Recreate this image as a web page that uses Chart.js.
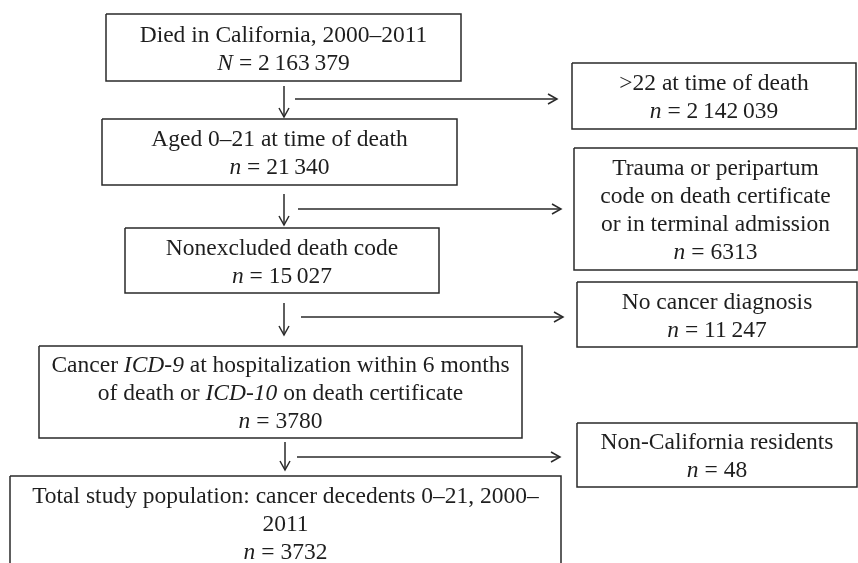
<!DOCTYPE html>
<html>
<head>
<meta charset="utf-8">
<script src="https://cdn.jsdelivr.net/npm/chart.js@4"></script>
<style>
  html, body { margin: 0; padding: 0; background: #ffffff; }
  #flow { display: block; }
</style>
</head>
<body>
<canvas id="flow" width="858" height="563"></canvas>
<script>
// Flow of the study population: main steps down the left, exclusions on the right.
const mainTitles = [
  [[["Died in California, 2000–2011", false]]],
  [[["Aged 0–21 at time of death", false]]],
  [[["Nonexcluded death code", false]]],
  [
    [["Cancer ", false], ["ICD-9", true], [" at hospitalization within 6 months", false]],
    [["of death or ", false], ["ICD-10", true], [" on death certificate", false]],
  ],
  [
    [["Total study population: cancer decedents 0–21, 2000–", false]],
    [["2011", false]],
  ],
];
const mainCounts = [2163379, 21340, 15027, 3780, 3732];
const mainCountSymbol = ["N", "n", "n", "n", "n"];

const excludedTitles = [
  [[[">22 at time of death", false]]],
  [
    [["Trauma or peripartum", false]],
    [["code on death certificate", false]],
    [["or in terminal admission", false]],
  ],
  [[["No cancer diagnosis", false]]],
  [[["Non-California residents", false]]],
];
const excludedCounts = [2142039, 6313, 11247, 48];

// box edges, in diagram units (same scale as the 858 x 563 page)
const mainLeft = [106, 102, 125, 39, 10];
const mainRight = [461, 457, 439, 522, 561];
const mainTop = [14, 119, 228, 346, 476];
const mainBottom = [81, 185, 293, 438, 570];

const sideLeft = [572, 574, 577, 577];
const sideRight = [856, 857, 857, 857];
const sideTop = [63, 148, 282, 423];
const sideBottom = [129, 270, 347, 487];

// connectors
const downX = [284, 284, 284, 285];
const downFrom = [86, 194, 303, 442];
const downTo = [117, 225, 335, 470];
const sideY = [99, 209, 317, 457];
const sideFrom = [295, 298, 301, 297];
const sideTo = [557, 561, 563, 560];

const INK = "#2a2a2a";
const FONT = "'Liberation Serif', 'Times New Roman', serif";
const FONT_SIZE = 23.5;
const LINE_H = 28;

function fmtCount(v) {
  if (v < 10000) return String(v);
  return String(v).replace(/\B(?=(\d{3})+(?!\d))/g, "\u2009");
}

function rectPoints(l, r, t, b) {
  return [{ x: l, y: t }, { x: r, y: t }, { x: r, y: b }, { x: l, y: b }, { x: l, y: t }];
}

const datasets = [];
mainLeft.forEach((l, i) => {
  datasets.push({ kind: "box", data: rectPoints(l, mainRight[i], mainTop[i], mainBottom[i]) });
});
sideLeft.forEach((l, i) => {
  datasets.push({ kind: "box", data: rectPoints(l, sideRight[i], sideTop[i], sideBottom[i]) });
});
downX.forEach((x, i) => {
  datasets.push({ kind: "down", data: [{ x, y: downFrom[i] }, { x, y: downTo[i] }] });
});
sideY.forEach((y, i) => {
  datasets.push({ kind: "right", data: [{ x: sideFrom[i], y }, { x: sideTo[i], y }] });
});
datasets.forEach((d) => {
  d.showLine = true;
  d.borderColor = INK;
  d.borderWidth = 1.5;
  d.pointRadius = 0;
  d.fill = false;
  d.tension = 0;
});

function drawRich(ctx, segs, cx, baseline) {
  const fontFor = (it) => `${it ? "italic " : ""}${FONT_SIZE}px ${FONT}`;
  let total = 0;
  segs.forEach(([t, it]) => { ctx.font = fontFor(it); total += ctx.measureText(t).width; });
  let x = cx - total / 2;
  segs.forEach(([t, it]) => {
    ctx.font = fontFor(it);
    ctx.fillText(t, x, baseline);
    x += ctx.measureText(t).width;
  });
}

function drawBoxText(ctx, xs, ys, lines, l, r, t, b) {
  const cx = (xs.getPixelForValue(l) + xs.getPixelForValue(r)) / 2;
  const cy = (ys.getPixelForValue(t) + ys.getPixelForValue(b)) / 2;
  const first = cy + 8 - ((lines.length - 1) * LINE_H) / 2;
  lines.forEach((segs, k) => drawRich(ctx, segs, cx, first + k * LINE_H));
}

const flowLabels = {
  id: "flowLabels",
  afterDatasetsDraw(chart) {
    const { ctx } = chart;
    const xs = chart.scales.x, ys = chart.scales.y;
    ctx.save();
    ctx.fillStyle = "#1e1e1e";
    ctx.textAlign = "left";
    ctx.textBaseline = "alphabetic";

    mainTitles.forEach((title, i) => {
      const lines = title.concat([[[mainCountSymbol[i], true], [" = " + fmtCount(mainCounts[i]), false]]]);
      drawBoxText(ctx, xs, ys, lines, mainLeft[i], mainRight[i], mainTop[i], mainBottom[i]);
    });
    excludedTitles.forEach((title, i) => {
      const lines = title.concat([[["n", true], [" = " + fmtCount(excludedCounts[i]), false]]]);
      drawBoxText(ctx, xs, ys, lines, sideLeft[i], sideRight[i], sideTop[i], sideBottom[i]);
    });

    // open arrow heads at the end of each connector
    ctx.strokeStyle = INK;
    ctx.lineWidth = 1.5;
    chart.data.datasets.forEach((d) => {
      if (d.kind === "box") return;
      const end = d.data[d.data.length - 1];
      const px = xs.getPixelForValue(end.x), py = ys.getPixelForValue(end.y);
      ctx.beginPath();
      if (d.kind === "down") {
        ctx.moveTo(px - 5, py - 9); ctx.lineTo(px, py); ctx.lineTo(px + 5, py - 9);
      } else {
        ctx.moveTo(px - 9, py - 5); ctx.lineTo(px, py); ctx.lineTo(px - 9, py + 5);
      }
      ctx.stroke();
    });
    ctx.restore();
  },
};

new Chart(document.getElementById("flow").getContext("2d"), {
  type: "scatter",
  data: { datasets },
  options: {
    responsive: false,
    animation: false,
    layout: { padding: 0 },
    plugins: { legend: { display: false }, tooltip: { enabled: false } },
    scales: {
      x: { type: "linear", min: 0, max: 858, display: false },
      y: { type: "linear", min: 0, max: 563, reverse: true, display: false },
    },
  },
  plugins: [flowLabels],
});
</script>
</body>
</html>
